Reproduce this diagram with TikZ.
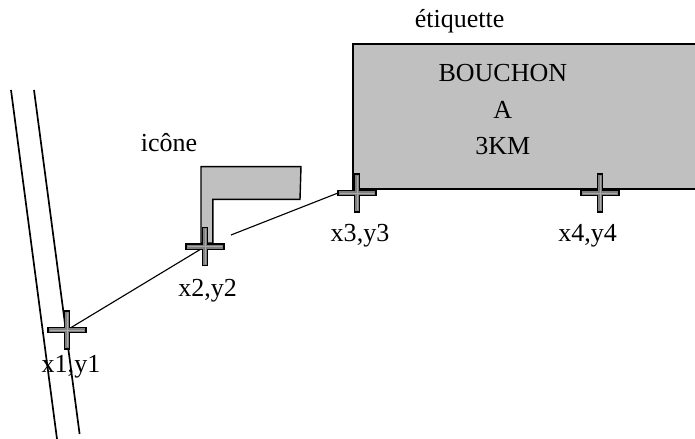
\documentclass[tikz,border=0pt]{standalone}
\usepackage{fontspec}
\setmainfont{Liberation Serif}
\usepackage{tikz}
\usetikzlibrary{positioning}
\definecolor{boxgray}{RGB}{192,192,192}
\definecolor{crossgray}{RGB}{128,128,128}
\definecolor{stripegray}{RGB}{170,170,170}
\tikzset{
  road/.style={line width=1.2pt},
  link/.style={line width=0.8pt},
  label/.style={anchor=base,inner sep=0pt,font=\fontsize{18.5}{22}\selectfont},
  crossmark/.style={fill=crossgray,draw=black,line width=0.8pt},
}
% cross drawn on a named coordinate
\newcommand{\crossat}[1]{%
  \draw[crossmark,shift={(#1)}] (-0.475,-0.065) -- (-0.065,-0.065) -- (-0.065,-0.475)
    -- (0.065,-0.475) -- (0.065,-0.065) -- (0.475,-0.065) -- (0.475,0.065)
    -- (0.065,0.065) -- (0.065,0.475) -- (-0.065,0.475) -- (-0.065,0.065)
    -- (-0.475,0.065) -- cycle;
  \draw[stripegray,line width=0.4pt,shift={(#1)}] (-0.43,0) -- (0.43,0) (0,-0.43) -- (0,0.43);
}
\begin{document}
\begin{tikzpicture}
\useasboundingbox (0,0) rectangle (17.375,10.975);
% road
\draw[road] (0.275,8.725) -- (1.425,0); % left edge
\draw[road] (0.85,8.725) -- (1.99,0.125); % right edge
% etiquette
\draw[fill=boxgray,line width=1.2pt] (8.825,6.25) rectangle (17.6,9.875);
\node[label] (bouchon) at (12.57,8.93) {BOUCHON};
\node[label] (lettre) at (12.57,8.02) {A};
\node[label] (dist) at (12.57,7.1) {3KM};
\node[label] (etiq) at (11.49,10.29) {étiquette};
% icone
\draw[fill=boxgray,line width=1pt] (5.025,6.81) -- (7.525,6.81) -- (7.5,5.99) -- (5.32,5.99)
  -- (5.32,4.9) -- (5.025,4.9) -- cycle;
\node[label] (icone) at (4.225,7.18) {icône};
% points
\coordinate (p1) at (1.675,2.725);
\coordinate (p2) at (5.125,4.81);
\coordinate (p3) at (8.925,6.15);
\coordinate (p4) at (15.0,6.15);
\coordinate (c) at (5.775,5.1); % start of link to label
\coordinate (a3) at (8.45,6.15); % left end of cross 3
% links
\draw[link] (p1) -- (p2);
\draw[link] (c) -- (a3);
% crosses
\crossat{p1}
\crossat{p2}
\crossat{p3}
\crossat{p4}
% labels
\node[label] (l1) at (1.775,1.66) {x1,y1};
\node[label] (l2) at (5.19,3.56) {x2,y2};
\node[label] (l3) at (9.0,4.93) {x3,y3};
\node[label] (l4) at (14.69,4.93) {x4,y4};
\end{tikzpicture}
\end{document}
